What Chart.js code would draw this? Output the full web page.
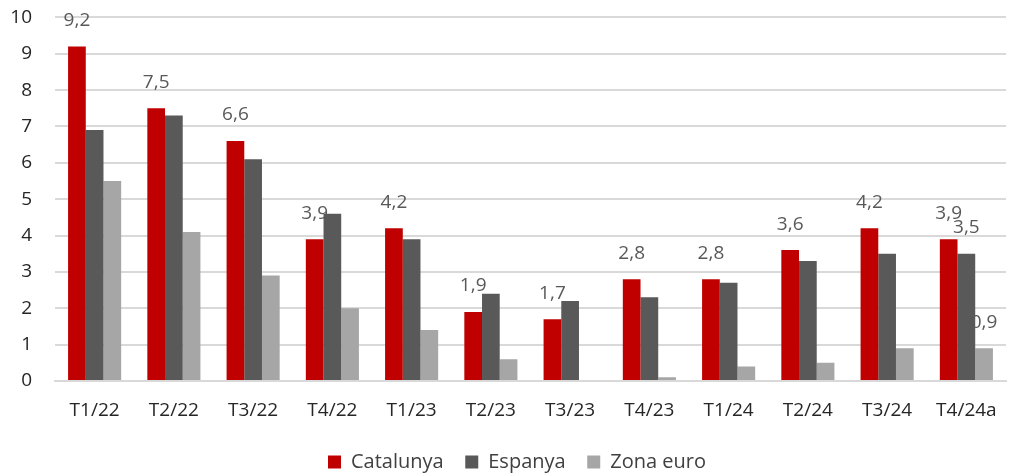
<!DOCTYPE html>
<html>
<head>
<meta charset="utf-8">
<script src="https://cdn.jsdelivr.net/npm/chart.js@4"></script>
<style>
  html, body { margin: 0; padding: 0; background: #fff; }
  #wrap { width: 1012px; height: 473px; }
</style>
</head>
<body>
<div id="wrap"><canvas id="myChart" width="1012" height="473"></canvas></div>
<script>
  // chart data
  var categories = ["T1/22", "T2/22", "T3/22", "T4/22", "T1/23", "T2/23", "T3/23", "T4/23", "T1/24", "T2/24", "T3/24", "T4/24a"];
  var catalunya = [9.2, 7.5, 6.6, 3.9, 4.2, 1.9, 1.7, 2.8, 2.8, 3.6, 4.2, 3.9];
  var espanya   = [6.9, 7.3, 6.1, 4.6, 3.9, 2.4, 2.2, 2.3, 2.7, 3.3, 3.5, 3.5];
  var zonaEuro  = [5.5, 4.1, 2.9, 2.0, 1.4, 0.6, 0.0, 0.1, 0.4, 0.5, 0.9, 0.9];
  var yTicks = [0, 1, 2, 3, 4, 5, 6, 7, 8, 9, 10];

  // which points get a value label: [datasetIndex, index]
  var labelled = [];
  catalunya.forEach(function(v, i){ labelled.push([0, i]); });
  labelled.push([1, 11]);
  labelled.push([2, 11]);

  var fontFamily = "'Open Sans', 'Noto Sans', sans-serif";

  // simple value label plugin (no datalabels plugin available)
  var valueLabels = {
    id: "valueLabels",
    afterDatasetsDraw: function(chart){
      var ctx = chart.ctx;
      ctx.save();
      ctx.font = "19px " + fontFamily;
      ctx.fillStyle = "#595959";
      ctx.textAlign = "center";
      ctx.textBaseline = "middle";
      labelled.forEach(function(p){
        var meta = chart.getDatasetMeta(p[0]);
        var bar = meta.data[p[1]];
        var v = chart.data.datasets[p[0]].data[p[1]];
        ctx.fillText(v.toFixed(1).replace(".", ","), bar.x, bar.y - 26);
      });
      ctx.restore();
    }
  };

  // nudge the legend a bit to the right, like the original
  var legendShift = {
    id: "legendShift",
    afterLayout: function(chart){
      chart.legend.left += 14;
      chart.legend.right += 14;
    }
  };

  var ctx = document.getElementById("myChart").getContext("2d");
  var myChart = new Chart(ctx, {
    type: "bar",
    data: {
      labels: categories,
      datasets: [
        { label: "Catalunya", data: catalunya, backgroundColor: "#c00000" },
        { label: "Espanya", data: espanya, backgroundColor: "#595959" },
        { label: "Zona euro", data: zonaEuro, backgroundColor: "#a6a6a6" }
      ]
    },
    options: {
      responsive: false,
      animation: false,
      layout: { padding: { top: 0, right: 6, left: 0, bottom: -9 } },
      datasets: {
        bar: { barPercentage: 1.0, categoryPercentage: 0.67 }
      },
      plugins: {
        tooltip: { enabled: false },
        legend: {
          position: "bottom",
          labels: {
            boxWidth: 13,
            boxHeight: 13,
            padding: 6,
            color: "#404040",
            font: { family: fontFamily, size: 20 },
            generateLabels: function(chart){
              var items = Chart.defaults.plugins.legend.labels.generateLabels(chart);
              items.forEach(function(it, i){ if (i < items.length - 1) it.text = it.text + "   "; });
              return items;
            }
          }
        }
      },
      scales: {
        x: {
          grid: { display: false },
          border: { color: "#d9d9d9", width: 2 },
          ticks: { color: "#262626", font: { family: fontFamily, size: 19 }, padding: 10 },
          afterFit: function(axis){ axis.height = 65; }
        },
        y: {
          min: 0,
          max: 10,
          afterBuildTicks: function(axis){
            axis.ticks = yTicks.map(function(v){ return { value: v }; });
          },
          afterFit: function(axis){ axis.width = 55; },
          grid: { color: "#d9d9d9", lineWidth: 2, drawTicks: true, tickLength: 17, tickColor: "rgba(0,0,0,0)" },
          border: { display: false },
          ticks: { color: "#262626", font: { family: fontFamily, size: 19 }, padding: 6 }
        }
      }
    },
    plugins: [valueLabels, legendShift]
  });
</script>
</body>
</html>
